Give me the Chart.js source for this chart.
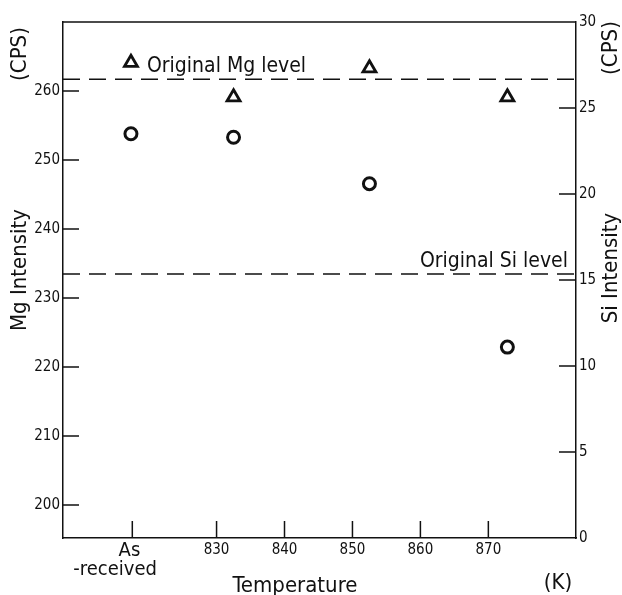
<!DOCTYPE html>
<html>
<head>
<meta charset="utf-8">
<script src="https://cdn.jsdelivr.net/npm/chart.js@4.4.1/dist/chart.umd.min.js"></script>
<style>
  body { margin: 0; background: #fff; }
  canvas { display: block; }
</style>
</head>
<body>
<canvas id="chart" width="622" height="595"></canvas>
<script>
"use strict";

// temperature (K) of each sample; the as-received one sits left of 830 K
const temperatures = [817.4, 832.5, 852.5, 872.8];
const mgIntensity = [264.1, 259.1, 263.3, 259.1];   // triangles, left axis
const siIntensity = [23.5, 23.3, 20.6, 11.1];       // circles, right axis
const mgOriginal = 261.7;
const siOriginal = 15.35;

const xTickValues = [817.6, 830, 840, 850, 860, 870];
// trailing spaces nudge the as-received label left, as in the figure
const xTickLabels = [["As ", "-received      "], "830", "840", "850", "860", "870"];
const mgTicks = [200, 210, 220, 230, 240, 250, 260];
const siTicks = [0, 5, 10, 15, 20, 25, 30];

const xMin = 807.4, xMax = 882.9;
const FONT = "'DejaVu Sans Condensed', 'DejaVu Sans', sans-serif";
const INK = "#111";

function points(xs, ys) {
  return xs.map((x, i) => ({ x: x, y: ys[i] }));
}

// frame top, inward tick marks and the free text of the figure
const decorations = {
  id: "decorations",
  afterDraw(chart) {
    const ctx = chart.ctx;
    const a = chart.chartArea;
    const xs = chart.scales.x, ym = chart.scales.yMg, ys = chart.scales.ySi;
    ctx.save();
    ctx.strokeStyle = INK;
    ctx.lineWidth = 1.5;
    ctx.beginPath();
    ctx.moveTo(a.left, a.top);
    ctx.lineTo(a.right, a.top);
    ym.ticks.forEach(t => {
      const y = ym.getPixelForValue(t.value);
      ctx.moveTo(a.left - 1, y);
      ctx.lineTo(a.left + 16, y);
    });
    ys.ticks.forEach(t => {
      const y = ys.getPixelForValue(t.value);
      if (t.value === 0 || t.value === 30) return;
      ctx.moveTo(a.right - 17, y);
      ctx.lineTo(a.right, y);
    });
    xs.ticks.forEach(t => {
      const x = xs.getPixelForValue(t.value);
      ctx.moveTo(x, a.bottom - 17);
      ctx.lineTo(x, a.bottom);
    });
    ctx.stroke();

    ctx.fillStyle = INK;
    ctx.font = "21px " + FONT;
    ctx.textBaseline = "alphabetic";
    ctx.textAlign = "left";
    ctx.fillText("Original Mg level", xs.getPixelForValue(temperatures[0]) + 16,
      ym.getPixelForValue(mgOriginal) - 7);
    ctx.textAlign = "right";
    ctx.fillText("Original Si level", a.right - 8, ys.getPixelForValue(siOriginal) - 7);

    ctx.font = "22px " + FONT;
    ctx.textAlign = "center";
    ctx.textBaseline = "middle";
    const vtext = (txt, x, y) => {
      ctx.save();
      ctx.translate(x, y);
      ctx.rotate(-Math.PI / 2);
      ctx.fillText(txt, 0, 0);
      ctx.restore();
    };
    vtext("(CPS)", 20, 54);
    vtext("Mg Intensity", 20, 270);
    vtext("(CPS)", 611, 48);
    vtext("Si Intensity", 611, 268);
    ctx.fillText("Temperature", 295, 586);
    ctx.fillText("(K)", 558, 583);
    ctx.restore();
  }
};

new Chart(document.getElementById("chart"), {
  type: "scatter",
  data: {
    datasets: [
      {
        label: "Mg",
        data: points(temperatures, mgIntensity),
        yAxisID: "yMg",
        pointStyle: "triangle",
        pointRadius: 7.5,
        borderWidth: 2.8,
        borderColor: INK,
        backgroundColor: "#fff",
      },
      {
        label: "Si",
        data: points(temperatures, siIntensity),
        yAxisID: "ySi",
        pointStyle: "circle",
        pointRadius: 6,
        borderWidth: 3,
        borderColor: INK,
        backgroundColor: "#fff",
      },
      {
        label: "Original Mg level",
        type: "line",
        data: [{ x: xMin, y: mgOriginal }, { x: xMax, y: mgOriginal }],
        yAxisID: "yMg",
        borderColor: INK,
        borderWidth: 1.5,
        borderDash: [17, 9],
        pointRadius: 0,
      },
      {
        label: "Original Si level",
        type: "line",
        data: [{ x: xMin, y: siOriginal }, { x: xMax, y: siOriginal }],
        yAxisID: "ySi",
        borderColor: INK,
        borderWidth: 1.5,
        borderDash: [17, 9],
        pointRadius: 0,
      },
    ],
  },
  options: {
    responsive: false,
    animation: false,
    layout: { padding: { top: 22, left: 0, right: 0, bottom: 0 } },
    plugins: { legend: { display: false }, tooltip: { enabled: false } },
    scales: {
      x: {
        type: "linear",
        min: xMin,
        max: xMax,
        afterBuildTicks(scale) {
          scale.ticks = xTickValues.map(v => ({ value: v }));
        },
        afterFit(scale) { scale.height = 57; },
        grid: { display: false, drawTicks: false },
        border: { display: true, color: INK, width: 1.5 },
        ticks: {
          padding: 3,
          color: INK,
          maxRotation: 0,
          autoSkip: false,
          font: (c) => c.index === 0
            ? { family: FONT, size: 20, lineHeight: 0.95 }
            : { family: FONT, size: 15 },
          callback: (v, i) => xTickLabels[i],
        },
      },
      yMg: {
        type: "linear",
        position: "left",
        min: 195.2,
        max: 270,
        afterBuildTicks(scale) {
          scale.ticks = mgTicks.map(v => ({ value: v }));
        },
        afterFit(scale) { scale.width = 63; },
        grid: { display: false, drawTicks: false },
        border: { display: true, color: INK, width: 1.5 },
        ticks: { padding: 3, color: INK, font: { family: FONT, size: 15 } },
      },
      ySi: {
        type: "linear",
        position: "right",
        min: 0,
        max: 30,
        afterBuildTicks(scale) {
          scale.ticks = siTicks.map(v => ({ value: v }));
        },
        afterFit(scale) { scale.width = 46; },
        grid: { display: false, drawTicks: false },
        border: { display: true, color: INK, width: 1.5 },
        ticks: { padding: 3, color: INK, font: { family: FONT, size: 15 } },
      },
    },
  },
  plugins: [decorations],
});
</script>
</body>
</html>
